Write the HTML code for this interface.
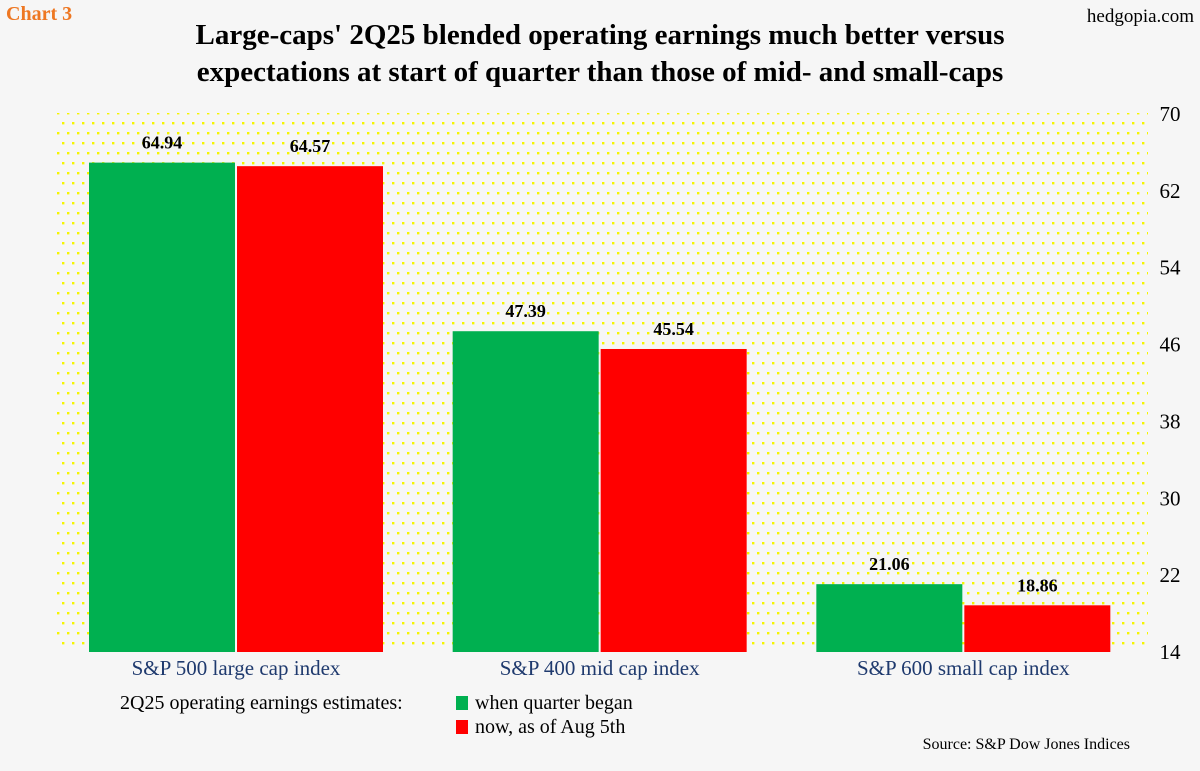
<!DOCTYPE html>
<html><head><meta charset="utf-8"><style>
body{margin:0;width:1200px;height:766px;background:#f6f6f6;overflow:hidden;font-family:"Liberation Serif",serif;}
</style></head><body>
<svg width="1200" height="766" xmlns="http://www.w3.org/2000/svg">
<defs><pattern id="dots" width="10" height="20" patternUnits="userSpaceOnUse">
<rect x="2" y="2" width="2.4" height="2.4" fill="#f5f500"/><rect x="7" y="12" width="2.4" height="2.4" fill="#f5f500"/></pattern></defs>
<rect width="1200" height="766" fill="#f6f6f6"/>
<text x="6" y="20" font-size="20" font-weight="bold" fill="#ee7722">Chart 3</text>
<text x="1194" y="22" font-size="19" text-anchor="end" fill="#000">hedgopia.com</text>
<text x="600" y="44" font-size="29" font-weight="bold" text-anchor="middle">Large-caps' 2Q25 blended operating earnings much better versus</text>
<text x="600" y="81" font-size="29" font-weight="bold" text-anchor="middle">expectations at start of quarter than those of mid- and small-caps</text>
<rect x="57" y="113" width="1091" height="539" fill="url(#dots)"/>
<g id="g"></g>
<rect x="456" y="696" width="12" height="14" fill="#00b050"/>
<rect x="456" y="720" width="12" height="14" fill="#ff0000"/>
<text x="120" y="709" font-size="20">2Q25 operating earnings estimates:</text>
<text x="475" y="709" font-size="20">when quarter began</text>
<text x="475" y="733" font-size="20">now, as of Aug 5th</text>
<text x="1130" y="749" font-size="16" text-anchor="end">Source: S&amp;P Dow Jones Indices</text>
</svg>
<script>
const categories=["S&P 500 large cap index","S&P 400 mid cap index","S&P 600 small cap index"];
const began=[64.94,47.39,21.06];
const now=[64.57,45.54,18.86];
const ticks=[14,22,30,38,46,54,62,70];
const NS="http://www.w3.org/2000/svg";
const g=document.getElementById("g");
const x0=57,pw=1091,yMin=14,yMax=70,yTop=114,yBot=652;
function y(v){return yBot-(v-yMin)/(yMax-yMin)*(yBot-yTop);}
function mk(t,a,txt){const e=document.createElementNS(NS,t);for(const k in a)e.setAttribute(k,a[k]);if(txt!=null)e.textContent=txt;g.appendChild(e);return e;}
ticks.forEach(t=>{const e=mk("text",{x:1170,y:y(t)+7,"font-size":21,"text-anchor":"middle"},t);

});
const cw=pw/categories.length,bw=146;
categories.forEach((c,i)=>{
 const cx=x0+cw*i;
 [[began,"#00b050",32,"began"],[now,"#ff0000",32+bw+2,"now"]].forEach(([arr,col,off,nm])=>{
  const v=arr[i],bx=cx+off;
  const r=mk("rect",{x:bx,y:y(v),width:bw,height:yBot-y(v),fill:col});
  
  
  const l=mk("text",{x:bx+bw/2,y:y(v)-14,"font-size":18,"font-weight":"bold","text-anchor":"middle"},v.toFixed(2));
  
  
 });
 const cl=mk("text",{x:cx+32+bw+1,y:675,"font-size":21,fill:"#1f3a6e","text-anchor":"middle"},c);
 
 
});
</script>
</body></html>
